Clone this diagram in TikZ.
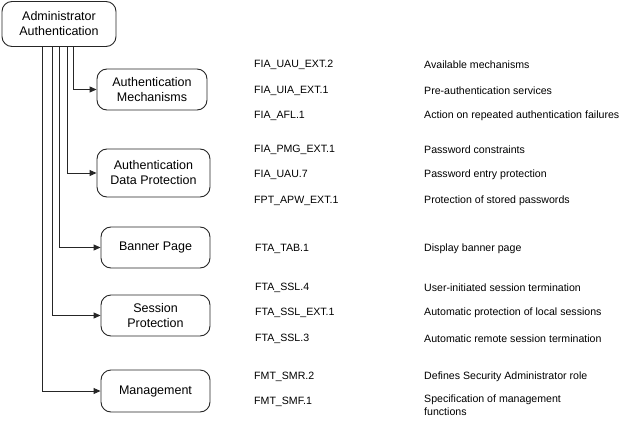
\documentclass[tikz,border=0pt]{standalone}
\usepackage{fontspec}
\setmainfont{Liberation Sans}
\usetikzlibrary{arrows.meta}
\begin{document}
\begin{tikzpicture}[x=1pt,y=-1pt,
  box/.style={draw=black!85, line width=0.9pt, rounded corners=10pt, align=center, inner sep=0pt,
    font=\fontsize{12.5}{15}\selectfont, fill=white},
  conn/.style={draw=black!85, line width=0.9pt, -{Triangle[length=7pt,width=6pt]}},
  lbl/.style={anchor=west, inner sep=0pt, yshift=-1.5pt, font=\fontsize{10.6}{13}\selectfont}]
\path[use as bounding box] (0,0) rectangle (626,425);
\node[box, minimum width=114pt, minimum height=45pt] (root) at (59,24) {Administrator\\Authentication};
\node[box, minimum width=110pt, minimum height=41pt] (mech) at (152,89.5) {Authentication\\Mechanisms};
\node[box, minimum width=113pt, minimum height=48pt] (data) at (153.5,173) {Authentication\\Data Protection};
\node[box, minimum width=109pt, minimum height=41pt] (banner) at (155.5,247.5) {Banner Page};
\node[box, minimum width=109pt, minimum height=41pt] (sess) at (155.5,315.5) {Session\\Protection};
\node[box, minimum width=109pt, minimum height=42pt] (mgmt) at (155.5,391) {Management};

\draw[conn] ([xshift=14pt]root.south) |- (mech.west);
\draw[conn] ([xshift=8pt]root.south) |- (data.west);
\draw[conn] ([xshift=0pt]root.south) |- (banner.west);
\draw[conn] ([xshift=-7pt]root.south) |- (sess.west);
\draw[conn] ([xshift=-17pt]root.south) |- (mgmt.west);

\node[lbl] (c1) at (254,63) {FIA\_UAU\_EXT.2};
\node[lbl] (c2) at (254,89) {FIA\_UIA\_EXT.1};
\node[lbl] (c3) at (254,114) {FIA\_AFL.1};
\node[lbl] (c4) at (254,148) {FIA\_PMG\_EXT.1};
\node[lbl] (c5) at (254,173) {FIA\_UAU.7};
\node[lbl] (c6) at (254,199) {FPT\_APW\_EXT.1};
\node[lbl] (c7) at (255,247) {FTA\_TAB.1};
\node[lbl] (c8) at (255,286) {FTA\_SSL.4};
\node[lbl] (c9) at (255,311) {FTA\_SSL\_EXT.1};
\node[lbl] (c10) at (255,337) {FTA\_SSL.3};
\node[lbl] (c11) at (254,375) {FMT\_SMR.2};
\node[lbl] (c12) at (254,400) {FMT\_SMF.1};

\node[lbl] (d1) at (424,63) {Available mechanisms};
\node[lbl] (d2) at (424,89) {Pre-authentication services};
\node[lbl] (d3) at (424,114) {Action on repeated authentication failures};
\node[lbl] (d4) at (424,148) {Password constraints};
\node[lbl] (d5) at (424,173) {Password entry protection};
\node[lbl] (d6) at (424,199) {Protection of stored passwords};
\node[lbl] (d7) at (424,247) {Display banner page};
\node[lbl] (d8) at (424,286) {User-initiated session termination};
\node[lbl] (d9) at (424,311) {Automatic protection of local sessions};
\node[lbl] (d10) at (424,337) {Automatic remote session termination};
\node[lbl] (d11) at (424,375) {Defines Security Administrator role};
\node[lbl, anchor=north west, align=left] (d12) at (424,393.5) {Specification of management\\functions};
\end{tikzpicture}
\end{document}
